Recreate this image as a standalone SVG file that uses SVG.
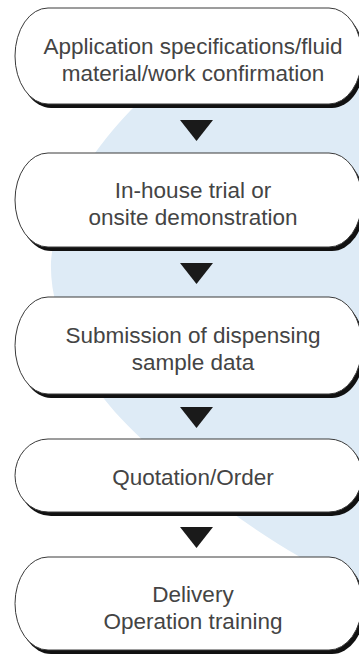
<svg xmlns="http://www.w3.org/2000/svg" width="359" height="656" viewBox="0 0 359 656">
<style>
.sh{fill:#111;}
.box{fill:#fff;stroke:#3a3a3a;stroke-width:1;}
.t{font-family:"Liberation Sans","Helvetica Neue",Arial,sans-serif;font-size:22.5px;fill:#444;text-anchor:middle;}
.arr{fill:#1a1a1a;}
</style>
<rect x="0" y="0" width="359" height="656" fill="#fff"/>
<path id="blob" d="M 380 60 C 250 60, 160 80, 130 111 C 100 142, 55 200, 51 262 C 49 318, 85 375, 105 400 C 140 445, 230 517, 300 557 C 325 571, 345 585, 380 605 L 380 60 Z" fill="#deebf6"/>
<g id="connectors">
<polygon class="arr" points="180,120 213,120 196.5,141"/>
<polygon class="arr" points="180,263 213,263 196.5,284"/>
<polygon class="arr" points="180,407 213,407 196.5,428"/>
<polygon class="arr" points="180,527 213,527 196.5,548"/>
</g>
<g id="node1">
<path class="sh" transform="translate(3,4)" d="M48,8 H329 A33,48 0 0 1 329,104 H48 A33,48 0 0 1 48,8 Z"/>
<path class="box" d="M48,8 H329 A33,48 0 0 1 329,104 H48 A33,48 0 0 1 48,8 Z"/>
<text class="t" x="193" y="54">Application specifications/fluid</text>
<text class="t" x="193" y="81">material/work confirmation</text>
</g>
<g id="node2">
<path class="sh" transform="translate(3,4)" d="M48,153 H329 A33,47 0 0 1 329,247 H48 A33,47 0 0 1 48,153 Z"/>
<path class="box" d="M48,153 H329 A33,47 0 0 1 329,247 H48 A33,47 0 0 1 48,153 Z"/>
<text class="t" x="193" y="198">In-house trial or</text>
<text class="t" x="193" y="225">onsite demonstration</text>
</g>
<g id="node3">
<path class="sh" transform="translate(3,4)" d="M48,297 H329 A33,48.5 0 0 1 329,394 H48 A33,48.5 0 0 1 48,297 Z"/>
<path class="box" d="M48,297 H329 A33,48.5 0 0 1 329,394 H48 A33,48.5 0 0 1 48,297 Z"/>
<text class="t" x="193" y="343">Submission of dispensing</text>
<text class="t" x="193" y="370">sample data</text>
</g>
<g id="node4">
<path class="sh" transform="translate(3,4)" d="M48,439 H329 A33,36.5 0 0 1 329,512 H48 A33,36.5 0 0 1 48,439 Z"/>
<path class="box" d="M48,439 H329 A33,36.5 0 0 1 329,512 H48 A33,36.5 0 0 1 48,439 Z"/>
<text class="t" x="193" y="485">Quotation/Order</text>
</g>
<g id="node5">
<path class="sh" transform="translate(3,4)" d="M48,557 H329 A33,46.5 0 0 1 329,650 H48 A33,46.5 0 0 1 48,557 Z"/>
<path class="box" d="M48,557 H329 A33,46.5 0 0 1 329,650 H48 A33,46.5 0 0 1 48,557 Z"/>
<text class="t" x="193" y="602">Delivery</text>
<text class="t" x="193" y="629">Operation training</text>
</g>
</svg>
